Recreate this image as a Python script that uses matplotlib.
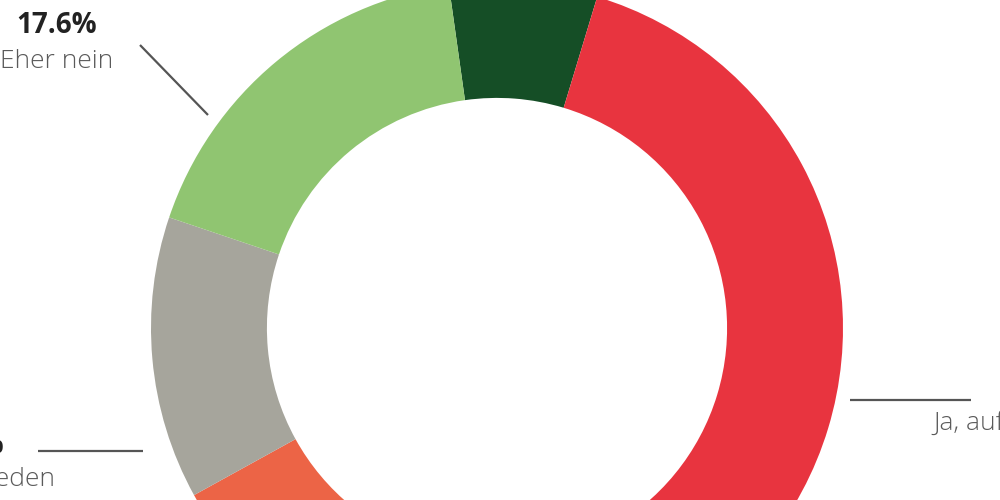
import matplotlib
matplotlib.use("Agg")
import matplotlib.pyplot as plt

# Data (clockwise from the top)
labels = ["Nein, auf keinen Fall", "Ja, auf jeden Fall", "Eher ja", "Unentschieden", "Eher nein"]
values = [6.9, 50.0, 12.3, 13.2, 17.6]
colors = ["#154e26", "#e8343f", "#ec6446", "#a6a59c", "#90c571"]

plt.rcParams['font.family'] = ['Open Sans', 'DejaVu Sans']

# geometry of the donut in the picture (pixels)
CX, CY, R = 497, 328, 346


def px(x, y):
    return (x - CX) / R, (CY - y) / R


fig = plt.figure(figsize=(10, 5), dpi=100)
ax = fig.add_axes([0, 0, 1, 1])
ax.pie(values, colors=colors, startangle=98, counterclock=False, radius=1,
       wedgeprops=dict(width=0.335, edgecolor='none'))
x0, y0 = px(0, 500)
x1, y1 = px(1000, 0)
ax.set_xlim(x0, x1)
ax.set_ylim(y0, y1)
ax.set_aspect('equal', adjustable='datalim')
ax.axis('off')

line_kw = dict(color='#555555', lw=1.6, solid_capstyle='butt')
pct_kw = dict(fontsize=20, fontweight='bold', color='#222222', va='baseline')
name_kw = dict(fontsize=19, fontweight='light', color='#5a5a5a', va='baseline')

# Eher nein
a, b = px(208, 115)
c, d = px(140, 45)
ax.plot([a, c], [b, d], **line_kw)
ax.text(*px(97, 33), f"{values[4]:.1f}%", ha='right', **pct_kw)
ax.text(*px(113, 68), labels[4], ha='right', **name_kw)

# Unentschieden
a, b = px(38, 451)
c, d = px(143, 451)
ax.plot([a, c], [b, d], **line_kw)
ax.text(*px(4, 453), f"{values[3]:.1f}%", ha='right', **pct_kw)
ax.text(*px(56, 486), labels[3], ha='right', **name_kw)

# Ja, auf jeden Fall
a, b = px(850, 400)
c, d = px(971, 400)
ax.plot([a, c], [b, d], **line_kw)
ax.text(*px(1008, 402), f"{values[1]:.1f}%", ha='left', **pct_kw)
ax.text(*px(933, 430), labels[1], ha='left', **name_kw)

fig.savefig("out.png", dpi=100)
